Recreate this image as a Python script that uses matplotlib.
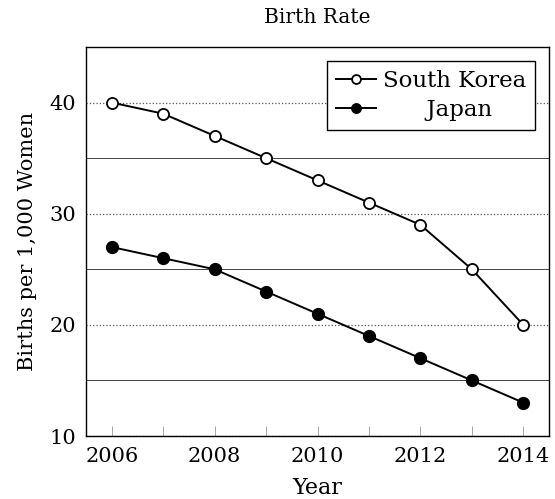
import matplotlib.pyplot as plt
from matplotlib.ticker import MultipleLocator

years = [2006, 2007, 2008, 2009, 2010, 2011, 2012, 2013, 2014]
south_korea = [40, 39, 37, 35, 33, 31, 29, 25, 20]
japan = [27, 26, 25, 23, 21, 19, 17, 15, 13]

plt.rcParams['font.family'] = ['DejaVu Serif']

fig = plt.figure(figsize=(5.55, 4.99), dpi=100)
ax = fig.add_axes([86 / 555, 1 - 436 / 499, 463 / 555, 389 / 499])

# grid: dotted at major ticks, thin solid at the 5s
ax.set_xlim(2005.5, 2014.5)
ax.set_ylim(10, 45)
ax.yaxis.set_major_locator(MultipleLocator(10))
ax.yaxis.set_minor_locator(MultipleLocator(5))
ax.xaxis.set_major_locator(MultipleLocator(2))
ax.xaxis.set_minor_locator(MultipleLocator(1))
ax.grid(True, which='major', axis='y', linestyle=':', color='#555555', linewidth=0.9)
ax.grid(True, which='minor', axis='y', linestyle='-', color='#444444', linewidth=0.7)
ax.tick_params(axis='y', which='both', direction='in', labelsize=15, length=0, pad=7)
ax.tick_params(axis='x', which='both', direction='in', labelsize=15, length=7,
               width=0.6, color='#999999', pad=8)

ax.plot(years, south_korea, '-o', color='black', markerfacecolor='white',
        markersize=8, linewidth=1.4, markeredgewidth=1.3, label='South Korea')
# leading spaces push the label to the middle of the legend like the original
ax.plot(years, japan, '-o', color='black', markersize=8.5, linewidth=1.4,
        label='      Japan')

for s in ax.spines.values():
    s.set_linewidth(1.0)

ax.set_title('Birth Rate', fontsize=14.5, pad=17)
ax.set_xlabel('Year', fontsize=16, labelpad=8)
ax.set_ylabel('Births per 1,000 Women', fontsize=15, labelpad=9)

leg = ax.legend(loc='upper right', fontsize=16.5, frameon=True, fancybox=False,
                edgecolor='black', framealpha=1, handlelength=1.75,
                borderpad=0.4, labelspacing=0.3, handletextpad=0.3,
                borderaxespad=0.6, markerscale=0.8)
leg.get_frame().set_linewidth(1.0)

fig.savefig('out.png', dpi=100)
